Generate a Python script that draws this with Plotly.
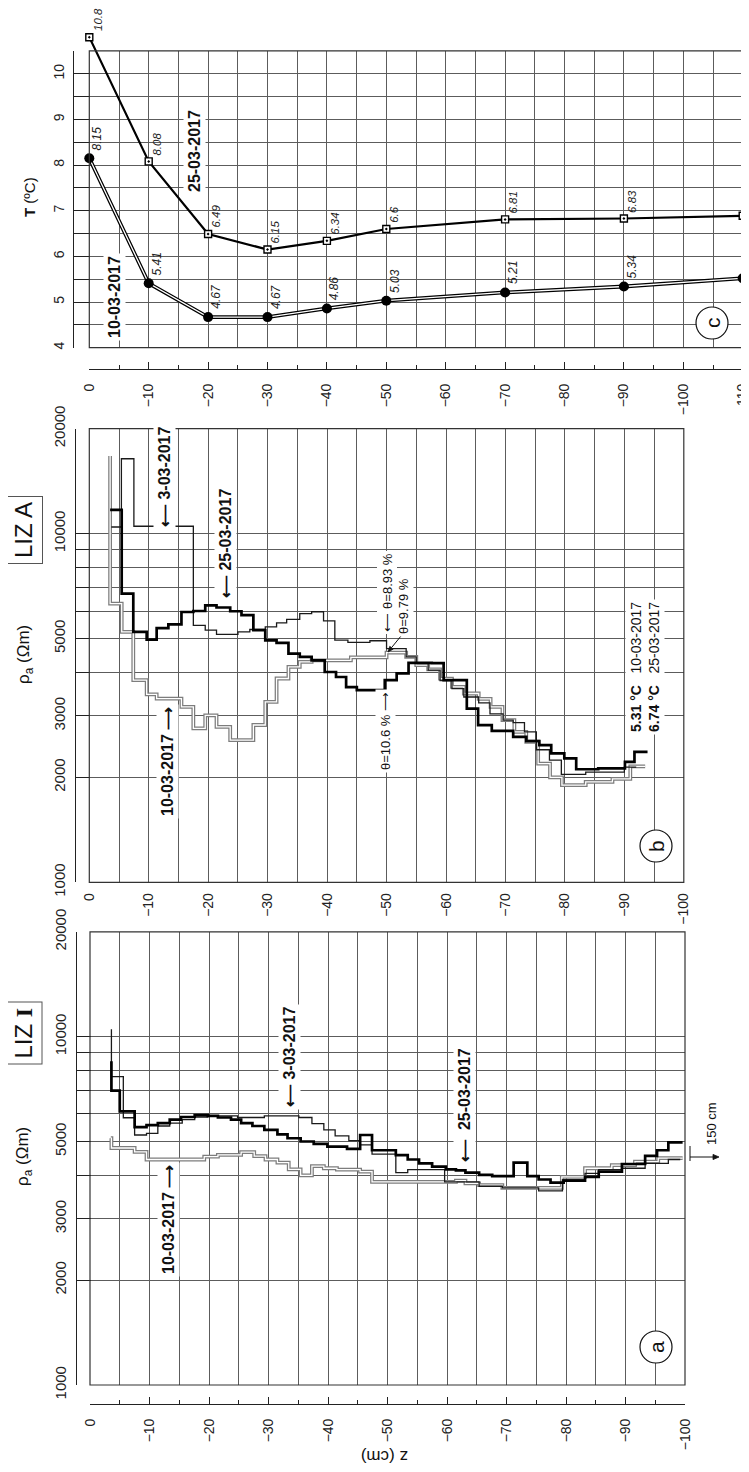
import math
import plotly.graph_objects as go

W, H = 749, 1472          # browser window
OFF = 8                   # default body margin of the page
FW, FH = W - OFF, H - OFF # figure size so that it fills the window exactly
FONT = "Liberation Sans, Arial, sans-serif"

# ---------------- DATA ----------------
# panel (c): temperature profiles
z_T = [0, -10, -20, -30, -40, -50, -70, -90, -110]
T_10_03 = [8.15, 5.41, 4.67, 4.67, 4.86, 5.03, 5.21, 5.34, 5.52]
T_25_03 = [10.8, 8.08, 6.49, 6.15, 6.34, 6.6, 6.81, 6.83, 6.89]

# panel (a): LIZ I apparent resistivity, step profiles (top depth of each step, value), end depth
lizI_0303_z = [-3.6, -3.6, -5.6, -7.5, -9.5, -11.4, -13.4, -15.5, -17.6, -19.8, -24.8, -29.3, -35.1,
               -37.3, -39.3, -41.2, -43.5, -45.4, -47.4, -51.4, -53.4, -59.6, -65.4, -69.3, -75.4,
               -79.4, -83.2, -85.5, -89.4, -93.3, -97.2]
lizI_0303_rho = [10500, 7680, 5850, 5220, 5280, 5540, 5650, 5780, 5880, 5920, 5860, 5920, 5860,
                 5630, 5400, 5190, 5030, 4890, 4600, 4070, 4150, 3830, 3720, 3680, 3610,
                 3880, 4050, 4150, 4190, 4330, 4440]
lizI_0303_end = -99.2

lizI_1003_z = [-3.5, -3.6, -7.5, -9.5, -19.2, -21.5, -25.4, -27.6, -29.5, -31.5, -33.4, -35.4, -37.3,
               -39.3, -41.5, -45.4, -47.4, -61.5, -63.1, -65.4, -69.3, -79.3, -83.2, -87.7, -91.6, -95.5]
lizI_1003_rho = [5110, 4790, 4670, 4440, 4524, 4580, 4660, 4540, 4440, 4350, 4160, 4000, 4250,
                 4190, 4150, 4100, 3830, 3860, 3790, 3750, 3680, 3960, 4190, 4280, 4380, 4480]
lizI_1003_end = -99.6

lizI_2503_z = [-3.6, -3.6, -5.0, -7.5, -9.5, -11.4, -13.4, -15.3, -17.6, -19.8, -21.5, -23.7, -25.4,
               -27.3, -29.3, -31.5, -33.2, -35.4, -37.6, -39.9, -43.2, -45.4, -47.4, -51.4, -53.4,
               -55.3, -57.5, -59.8, -61.5, -63.1, -65.4, -67.6, -71.2, -73.5, -75.4, -77.4, -79.6,
               -83.2, -85.5, -89.4, -93.3, -95.3, -97.2]
lizI_2503_rho = [8500, 7000, 6100, 5500, 5570, 5650, 5780, 5880, 5950, 5920, 5860, 5780, 5650,
                 5540, 5400, 5240, 5110, 5000, 4920, 4835, 4760, 5220, 4720, 4570, 4440,
                 4330, 4235, 4160, 4130, 4070, 4010, 3980, 4350, 3980, 3890, 3810, 3860,
                 3960, 4100, 4310, 4550, 4720, 4970]
lizI_2503_end = -99.6

# panel (b): LIZ A
lizA_0303_z = [-3.7, -5.4, -7.5, -17.5, -19.5, -21.4, -25.0, -27.0, -29.6, -31.5, -33.2, -35.4,
               -37.4, -39.4, -41.3, -43.5, -47.2, -50.0, -53.3, -55.0, -57.0, -59.0, -61.0, -63.0,
               -65.5, -67.4, -69.6, -71.3, -73.2, -75.2, -77.4, -79.4, -83.5, -90.0]
lizA_0303_rho = [10450, 16400, 10500, 5455, 5285, 5145, 5225, 5310, 5400, 5545, 5680, 5900,
                 5970, 5620, 4950, 4880, 4930, 4680, 4430, 4240, 4060, 3790, 3595, 3400,
                 3270, 3040, 2920, 2870, 2700, 2400, 2240, 2040, 2070, 2140]
lizA_0303_end = -92.0

lizA_1003_z = [-3.5, -3.5, -5.45, -7.4, -9.65, -11.33, -15.5, -17.5, -19.5, -21.4, -23.7, -27.6,
               -29.6, -31.5, -33.5, -35.4, -37.4, -44.0, -50.0, -53.3, -55.0, -57.0, -59.0, -61.0,
               -63.0, -65.5, -67.5, -69.5, -71.5, -73.5, -75.5, -77.5, -79.5, -83.5, -88.0, -91.0]
lizA_1003_rho = [16700, 6300, 5225, 3800, 3460, 3365, 3185, 2763, 3013, 2793, 2557, 2826,
                 3292, 3842, 4150, 4285, 4330, 4420, 4560, 4430, 4200, 4080, 3840, 3635,
                 3480, 3360, 3185, 2920, 2700, 2530, 2190, 2000, 1900, 1940, 1980, 2150]
lizA_1003_end = -93.5

lizA_2503_z = [-3.5, -5.45, -7.4, -9.65, -11.33, -13.3, -15.5, -17.5, -19.5, -21.4, -23.7, -25.6,
               -27.6, -29.6, -31.5, -33.5, -35.4, -37.4, -39.6, -41.5, -43.2, -45.0, -49.7, -51.7,
               -53.7, -57.6, -59.6, -63.5, -65.4, -67.7, -71.3, -73.5, -75.7, -77.7, -79.9, -81.9,
               -85.6, -90.1, -91.7]
lizA_2503_rho = [11700, 6730, 5225, 4965, 5360, 5495, 5960, 6000, 6230, 6140, 5990, 5840,
                 5285, 4944, 4860, 4530, 4430, 4330, 4010, 3880, 3630, 3556, 3800, 3973,
                 4260, 4250, 3800, 3150, 2823, 2720, 2612, 2540, 2473, 2343, 2266, 2110,
                 2121, 2216, 2367]
lizA_2503_end = -93.9

# tick labels
rho_tickvals = [1000, 2000, 3000, 4000, 5000, 6000, 7000, 8000, 9000, 10000, 20000]
rho_ticktext = ["1000", "2000", "3000", "", "5000", "", "", "", "", "10000", "20000"]
T_tickvals = [4, 4.5, 5, 5.5, 6, 6.5, 7, 7.5, 8, 8.5, 9, 9.5, 10, 10.5]
T_ticktext = ["4", "", "5", "", "6", "", "7", "", "8", "", "9", "", "10", ""]

# ---------------- helpers ----------------
def steps(z, rho, end):
    return list(z) + [end], list(rho) + [rho[-1]]

def fx(x):
    return (x - OFF) / FW

def fy(y):
    return 1 - (y - OFF) / FH

GRID = "#5c5c5c"
LINE = "#222222"
GRAY = "#7d7d7d"

fig = go.Figure()

def add_step(z, rho, end, xa, ya, style):
    xs, ys = steps(z, rho, end)
    if style == "gray":
        fig.add_trace(go.Scatter(x=xs, y=ys, xaxis=xa, yaxis=ya, mode="lines", line_shape="hv",
                                 line=dict(color=GRAY, width=3.8), showlegend=False, hoverinfo="skip"))
        fig.add_trace(go.Scatter(x=xs, y=ys, xaxis=xa, yaxis=ya, mode="lines", line_shape="hv",
                                 line=dict(color="white", width=1.3), showlegend=False, hoverinfo="skip"))
    elif style == "thin":
        fig.add_trace(go.Scatter(x=xs, y=ys, xaxis=xa, yaxis=ya, mode="lines", line_shape="hv",
                                 line=dict(color="#1a1a1a", width=1.3), showlegend=False, hoverinfo="skip"))
    else:
        fig.add_trace(go.Scatter(x=xs, y=ys, xaxis=xa, yaxis=ya, mode="lines", line_shape="hv",
                                 line=dict(color="#000000", width=2.7), showlegend=False, hoverinfo="skip"))

# panel a
add_step(lizI_1003_z, lizI_1003_rho, lizI_1003_end, "x", "y", "gray")
add_step(lizI_0303_z, lizI_0303_rho, lizI_0303_end, "x", "y", "thin")
add_step(lizI_2503_z, lizI_2503_rho, lizI_2503_end, "x", "y", "thick")
# panel b
add_step(lizA_1003_z, lizA_1003_rho, lizA_1003_end, "x2", "y2", "gray")
add_step(lizA_0303_z, lizA_0303_rho, lizA_0303_end, "x2", "y2", "thin")
add_step(lizA_2503_z, lizA_2503_rho, lizA_2503_end, "x2", "y2", "thick")

# panel c
fig.add_trace(go.Scatter(x=z_T, y=T_10_03, xaxis="x3", yaxis="y3", mode="lines",
                         line=dict(color="#000", width=3.8), showlegend=False, hoverinfo="skip"))
fig.add_trace(go.Scatter(x=z_T, y=T_10_03, xaxis="x3", yaxis="y3", mode="lines",
                         line=dict(color="white", width=1.3), showlegend=False, hoverinfo="skip"))
fig.add_trace(go.Scatter(x=z_T, y=T_10_03, xaxis="x3", yaxis="y3", mode="markers", cliponaxis=False,
                         marker=dict(symbol="circle", size=10, color="#000"), showlegend=False, hoverinfo="skip"))
fig.add_trace(go.Scatter(x=z_T, y=T_25_03, xaxis="x4", yaxis="y4", mode="lines+markers", cliponaxis=False,
                         line=dict(color="#000", width=2.2),
                         marker=dict(symbol="square-dot", size=7, color="white", line=dict(color="#000", width=1.4)),
                         showlegend=False, hoverinfo="skip"))

# ---------------- axes ----------------
LOGTOP = math.log10(20000)

def xaxis_common(domain, rng):
    return dict(domain=domain, range=rng, showgrid=True, gridcolor=GRID, gridwidth=1, zeroline=False,
                tickmode="linear", tick0=0, dtick=10, tickangle=-90, ticklabeloverflow="allow",
                tickfont=dict(size=14, color="#222", family=FONT), automargin=False,
                minor=dict(dtick=5, tick0=0, showgrid=True, gridcolor=GRID, gridwidth=1))

def yaxis_rho(domain, pos):
    return dict(domain=domain, type="log", range=[3, LOGTOP], anchor="free", position=pos,
                showline=True, linecolor=LINE, linewidth=1, ticks="inside", ticklen=14, tickcolor=LINE,
                tickmode="array", tickvals=rho_tickvals, ticktext=rho_ticktext, tickangle=-90,
                tickfont=dict(size=15, color="#222", family=FONT), showgrid=True, gridcolor=GRID,
                zeroline=False, automargin=False, ticklabelstandoff=4, ticklabeloverflow="allow")

# panel a
xa = xaxis_common([fx(90), fx(685)], [0, -100])
xa.update(anchor="free", position=fy(1404), showline=True, linecolor=LINE, ticks="inside", ticklen=7,
          tickcolor=LINE, ticklabelstandoff=8)
xa["minor"].update(ticks="inside", ticklen=4, tickcolor=LINE)
ya = yaxis_rho([fy(1385), fy(931.8)], fx(76))

# panel b
xb = xaxis_common([fx(89.3), fx(683.8)], [0, -100])
xb.update(anchor="y2", showline=False, ticks="", ticklabelstandoff=7)
yb = yaxis_rho([fy(882.3), fy(428.7)], fx(75))

# panel c
xc = xaxis_common([fx(89.3), fx(742.7)], [0, -110])
xc.update(anchor="free", position=fy(369), showline=True, linecolor=LINE, ticks="inside", ticklen=7,
          tickcolor=LINE, ticklabelstandoff=8)
xc["minor"].update(ticks="inside", ticklen=4, tickcolor=LINE)
yc = dict(domain=[fy(347.7), fy(50.9)], range=[4, 10.5], anchor="free", position=fx(72.7),
          showline=True, linecolor=LINE, ticks="inside", ticklen=16, tickcolor=LINE,
          tickmode="array", tickvals=T_tickvals, ticktext=T_ticktext, tickangle=-90,
          tickfont=dict(size=14, color="#222", family=FONT), showgrid=True, gridcolor=GRID,
          zeroline=False, automargin=False, ticklabelstandoff=3, ticklabeloverflow="allow")
# overlay for the 25-03 curve of panel c (same scale, taller area so the 10.8 point is not clipped)
pxT = (347.7 - 50.9) / 6.5
top_px = 14
x4 = dict(domain=xc["domain"], range=[0, -110], visible=False, anchor="y4")
y4 = dict(domain=[fy(347.7), fy(top_px)], range=[4, 4 + (347.7 - top_px) / pxT],
          visible=False, anchor="x4")

fig.update_layout(
    width=FW, height=FH, margin=dict(l=0, r=0, t=0, b=0),
    paper_bgcolor="white", plot_bgcolor="rgba(0,0,0,0)",
    font=dict(family=FONT, color="#111"),
    xaxis=xa, yaxis=ya, xaxis2=xb, yaxis2=yb, xaxis3=xc, yaxis3=yc, xaxis4=x4, yaxis4=y4,
    showlegend=False,
)

# ---------------- frames & decorations ----------------
shapes = []
for xr, yr in [("x", "y"), ("x2", "y2"), ("x3", "y3")]:
    shapes.append(dict(type="rect", xref=xr + " domain", yref=yr + " domain", x0=0, x1=1, y0=0, y1=1,
                       line=dict(color="#333", width=1.2), layer="above"))

def circle(cx, cy, r):
    return dict(type="circle", xref="paper", yref="paper", x0=fx(cx - r), y0=fy(cy + r),
                x1=fx(cx + r), y1=fy(cy - r),
                line=dict(color="#111", width=1.2), fillcolor="white", layer="above")

def arrow(x0, y0, x1, y1, head=6.0, half=2.6):
    """straight arrow from (x0,y0) to tip (x1,y1), window pixels"""
    dx, dy = x1 - x0, y1 - y0
    L = math.hypot(dx, dy)
    ux, uy = dx / L, dy / L
    bx, by = x1 - ux * head, y1 - uy * head
    px_, py_ = -uy * half, ux * half
    out = [dict(type="line", xref="paper", yref="paper", x0=fx(x0), y0=fy(y0), x1=fx(bx), y1=fy(by),
                line=dict(color="#111", width=1))]
    path = "M %f,%f L %f,%f L %f,%f Z" % (fx(x1), fy(y1), fx(bx + px_), fy(by + py_), fx(bx - px_), fy(by - py_))
    out.append(dict(type="path", xref="paper", yref="paper", path=path, fillcolor="#111",
                    line=dict(color="#111", width=0.8)))
    return out

shapes.append(circle(656, 1347, 16))
shapes.append(circle(656, 846, 16))
shapes.append(circle(712, 323, 16))
# 150 cm marker
shapes.append(dict(type="line", xref="paper", yref="paper", x0=fx(690), y0=fy(1146), x1=fx(690), y1=fy(1161),
                   line=dict(color="#111", width=1)))
shapes += arrow(690, 1157, 719, 1157)
# theta = 9.79 % pointer
shapes += arrow(401, 636, 388, 652, head=5.5, half=2.2)

anns = []

def txt(x, y, text, size=14, angle=-90, bold=False, bg=None, **kw):
    d = dict(x=fx(x), y=fy(y), xref="paper", yref="paper", text=("<b>%s</b>" % text) if bold else text,
             showarrow=False, textangle=angle, xanchor="center", yanchor="middle",
             font=dict(size=size, color="#111", family=FONT))
    if bg:
        d.update(bgcolor=bg, borderpad=2)
    d.update(kw)
    anns.append(d)

# panel a
txt(22.5, 1033, "LIZ <span style='font-family:Liberation Serif'><b>I</b></span>", size=24,
    bordercolor="#555", borderwidth=1, borderpad=5)
txt(24, 1157, "ρ<sub>a</sub> (Ωm)", size=17)
txt(289, 1057, "⟵ 3-03-2017", size=16, bold=True, bg="white")
txt(168, 1220, "10-03-2017 ⟶", size=16, bold=True, bg="white")
txt(464, 1105, "⟵  25-03-2017", size=16, bold=True, bg="white")
txt(711, 1124, "150 cm", size=13)
txt(656, 1347, "a", size=21)
txt(385, 1457, "z (cm)", size=17, angle=180)

# panel b
txt(23, 530, "LIZ A", size=24, bordercolor="#555", borderwidth=1, borderpad=5)
txt(25, 655, "ρ<sub>a</sub> (Ωm)", size=17)
txt(165, 477, "⟵ 3-03-2017", size=16, bold=True, bg="white")
txt(225, 544, "⟵ 25-03-2017", size=16, bold=True, bg="white")
txt(167, 762, "10-03-2017 ⟶", size=16, bold=True, bg="white")
txt(386.5, 593, "⟵ θ=8.93 %", size=13, bg="white")
txt(404, 606, "θ=9.79 %", size=13, bg="white")
txt(385, 731, "θ=10.6 % ⟶", size=13, bg="white")
txt(645, 667, "<b>5.31 °C</b>   10-03-2017<br><b>6.74 °C</b>   25-03-2017", size=14, bg="white", align="left")
txt(656, 846, "b", size=21)

# panel c
txt(30, 197, "<b>T</b> (ºC)", size=15)
txt(195, 151, "25-03-2017", size=16, bold=True, bg="white")
txt(114, 297, "10-03-2017", size=16, bold=True, bg="white")
txt(712, 323, "c", size=21)

for z, t in zip(z_T, T_10_03):
    anns.append(dict(x=z, y=t, xref="x3", yref="y3", text="<i>%s</i>" % t, showarrow=False, textangle=-90,
                     xanchor="center", yanchor="bottom", xshift=8, yshift=6,
                     font=dict(size=12, color="#222", family=FONT)))
for z, t in zip(z_T, T_25_03):
    anns.append(dict(x=z, y=t, xref="x4", yref="y4", text="<i>%s</i>" % t, showarrow=False, textangle=-90,
                     xanchor="center", yanchor="bottom", xshift=8, yshift=4,
                     font=dict(size=11.5, color="#222", family=FONT)))

fig.update_layout(shapes=shapes, annotations=anns)
fig.write_html("out.html")
